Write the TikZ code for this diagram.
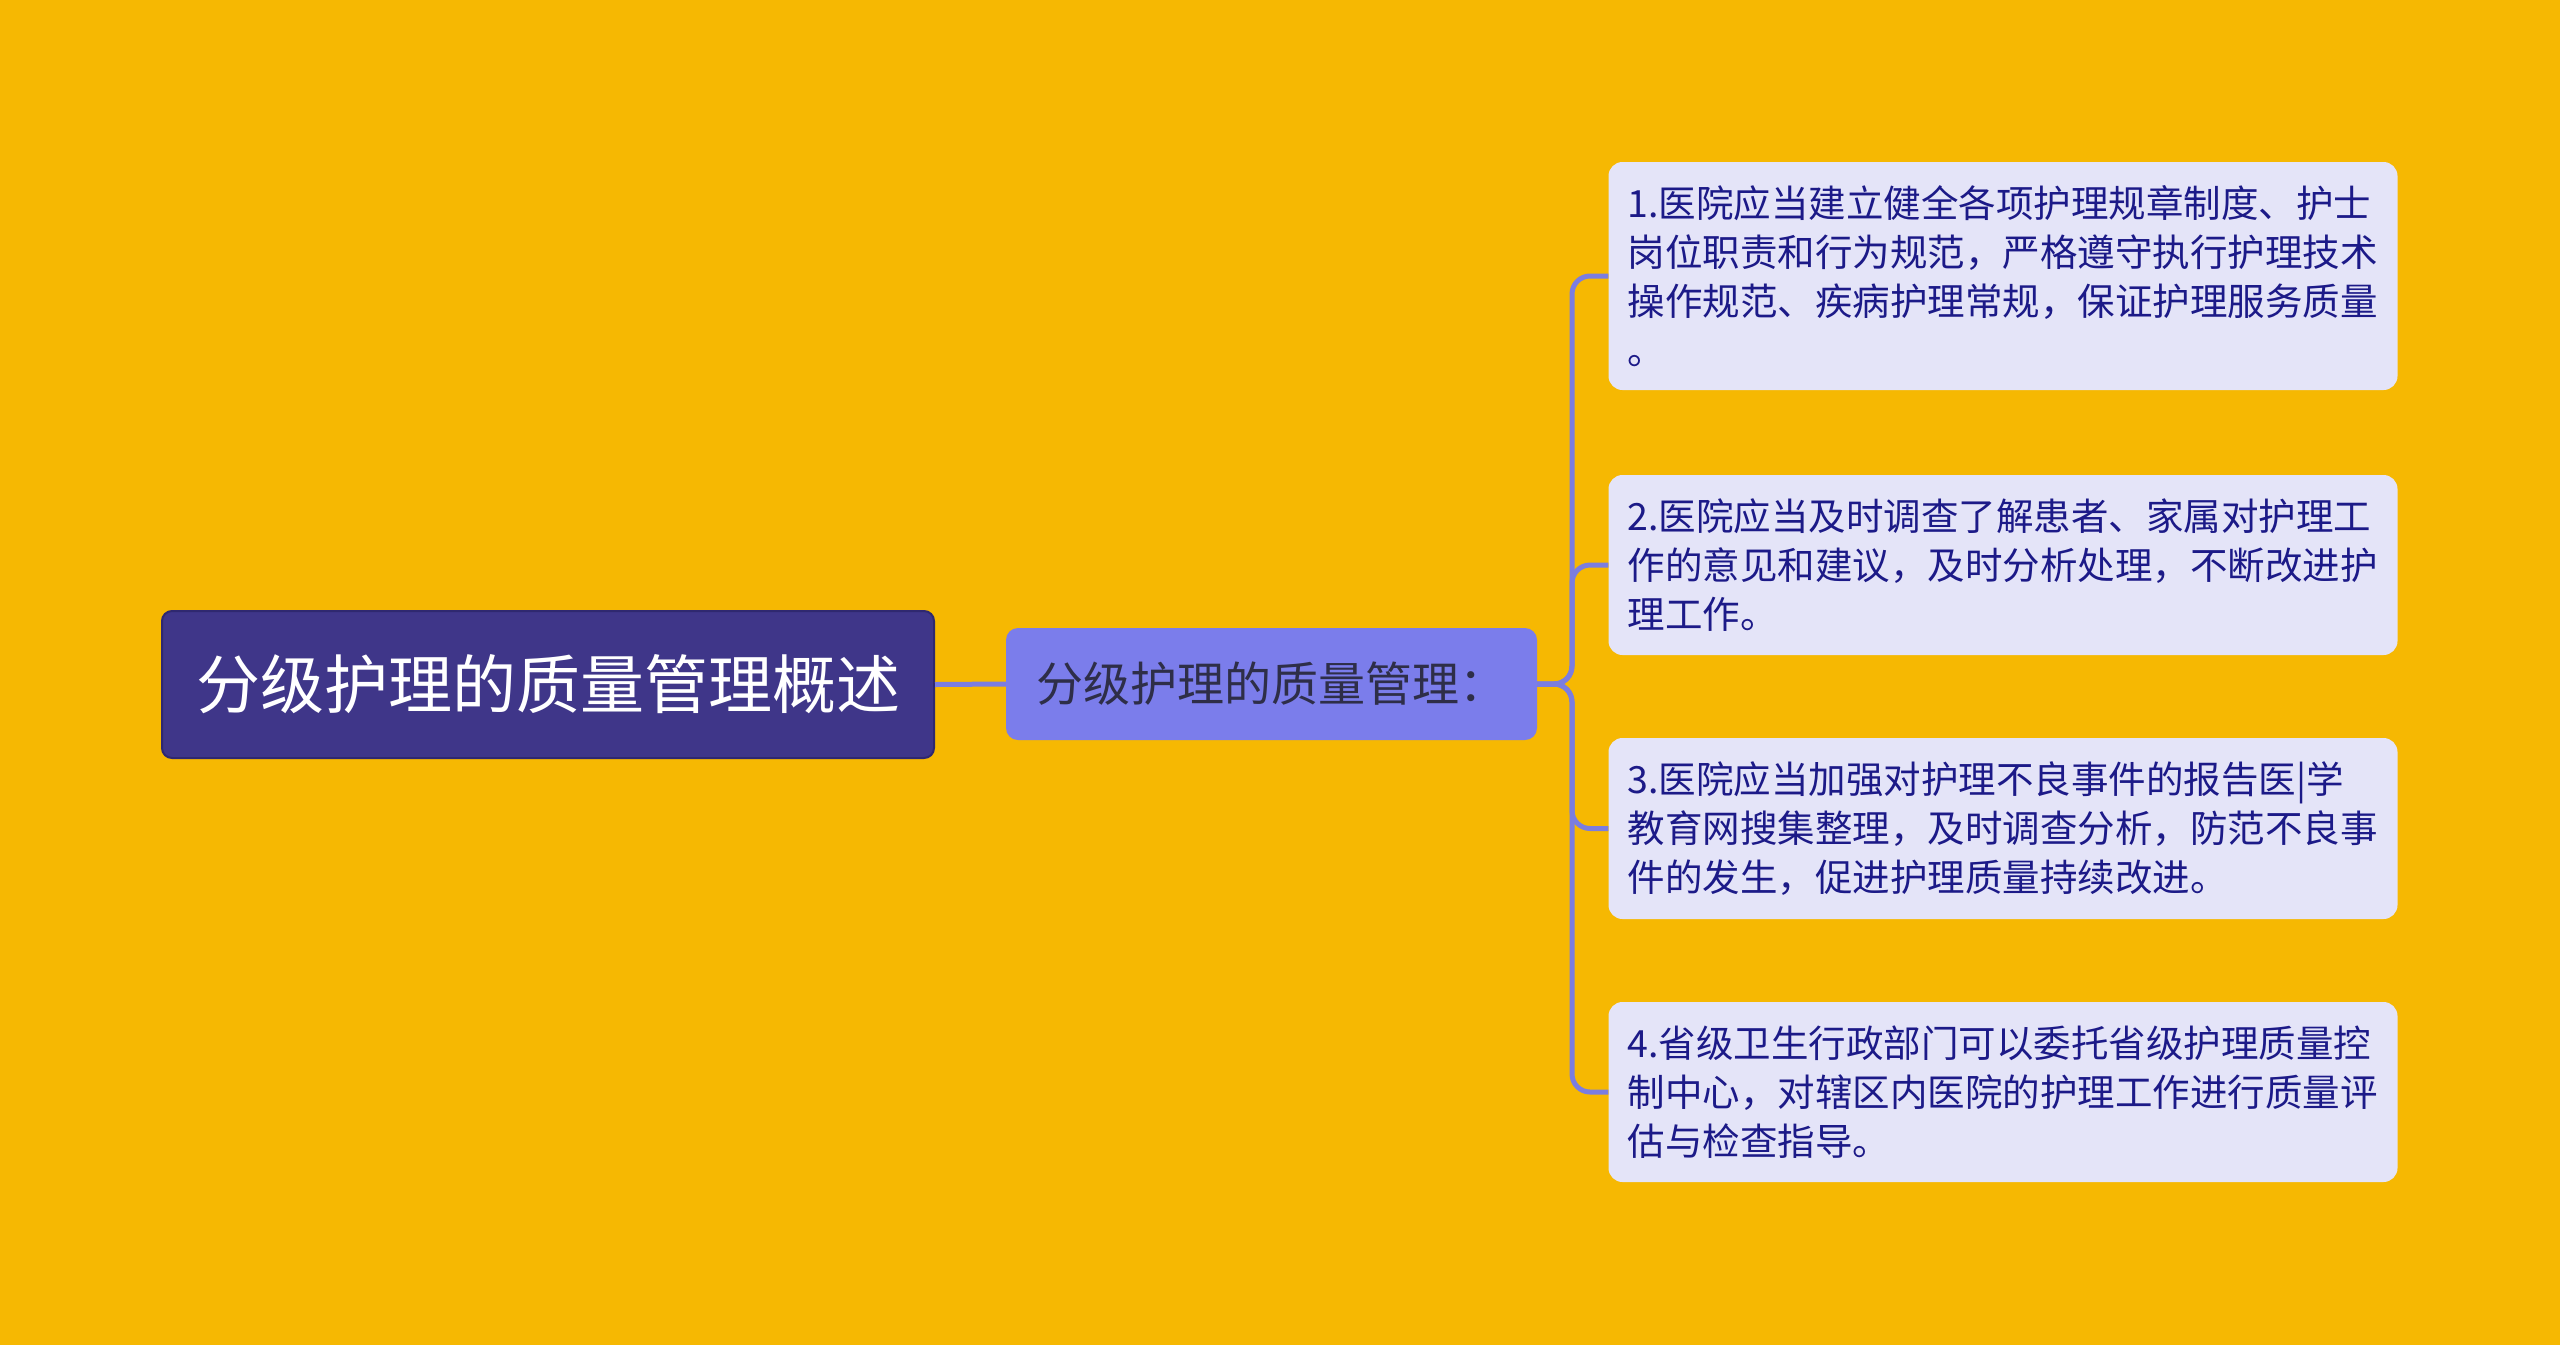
\documentclass[tikz,border=0pt]{standalone}
\usepackage{fontspec}
\setmainfont{Noto Sans CJK SC}
\definecolor{bgc}{HTML}{F6B802}
\definecolor{rootc}{HTML}{3F3689}
\definecolor{rootb}{HTML}{2F2870}
\definecolor{midc}{HTML}{7B7DEB}
\definecolor{leafc}{HTML}{E4E4F8}
\definecolor{leaft}{HTML}{1C1A88}
\definecolor{midt}{HTML}{2E2E48}
\definecolor{linec}{HTML}{7B7DE0}
\tikzset{
  rootbox/.style={draw=rootb, line width=2pt, fill=rootc, rounded corners=10pt, text=white,
    minimum width=772pt, minimum height=147pt, inner sep=0pt,
    font=\fontsize{64pt}{70pt}\selectfont},
  midbox/.style={fill=midc, rounded corners=12pt, text=midt,
    minimum width=531pt, minimum height=112pt, inner sep=0pt,
    font=\fontsize{47pt}{52pt}\selectfont},
  leafbox/.style={fill=leafc, rounded corners=14pt, text=leaft,
    minimum width=789pt, inner xsep=19pt, inner ysep=0pt, text width=751pt, align=left,
    font=\fontsize{37.5pt}{49pt}\selectfont},
  conn/.style={draw=linec, line width=5pt, rounded corners=18pt}
}
\begin{document}
\begin{tikzpicture}[x=1pt,y=-1pt]
\useasboundingbox[fill=bgc] (0,0) rectangle (2560,1345);
\node[rootbox] (root) at (548,684.5) {分级护理的质量管理概述};
\node[midbox] (mid) at (1271.5,684) {分级护理的质量管理：};
\node[leafbox, minimum height=228pt] (l1) at (2003,276) {1.医院应当建立健全各项护理规章制度、护士\\岗位职责和行为规范，严格遵守执行护理技术\\操作规范、疾病护理常规，保证护理服务质量\\。};
\node[leafbox, minimum height=180pt] (l2) at (2003,565) {2.医院应当及时调查了解患者、家属对护理工\\作的意见和建议，及时分析处理，不断改进护\\理工作。};
\node[leafbox, minimum height=181pt] (l3) at (2003,828.5) {3.医院应当加强对护理不良事件的报告医|学\\教育网搜集整理，及时调查分析，防范不良事\\件的发生，促进护理质量持续改进。};
\node[leafbox, minimum height=180pt] (l4) at (2003,1092) {4.省级卫生行政部门可以委托省级护理质量控\\制中心，对辖区内医院的护理工作进行质量评\\估与检查指导。};
\draw[conn] (root.east) -- (mid.west);
\foreach \n in {l1,l2,l3,l4}{
  \draw[conn] (mid.east) -- (1572,684) |- (\n.west);
}
\end{tikzpicture}
\end{document}
